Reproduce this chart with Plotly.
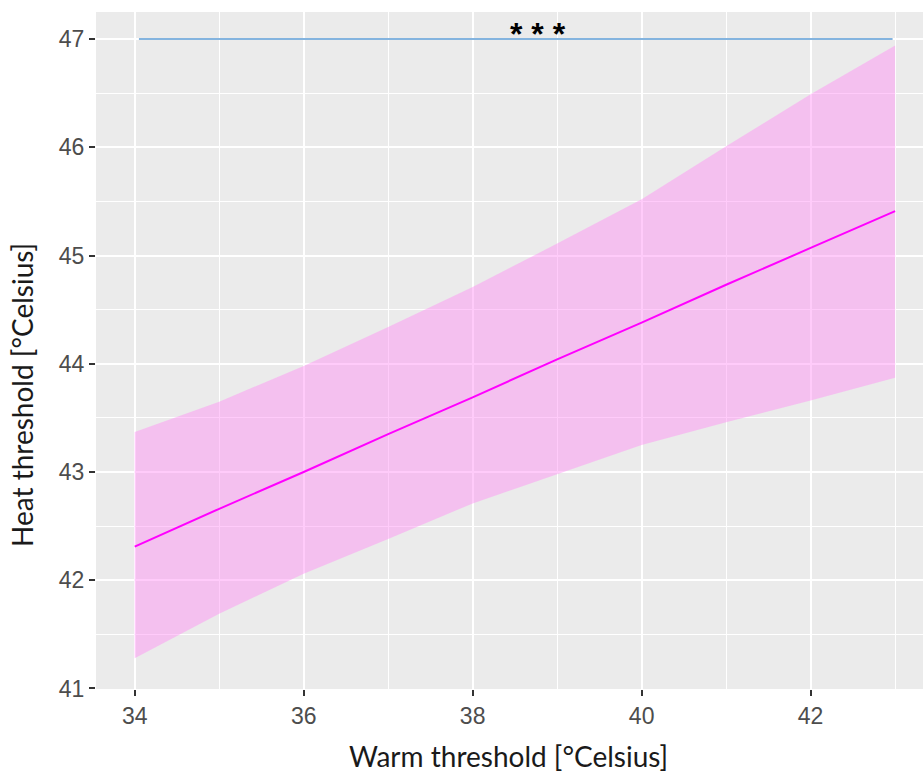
import plotly.graph_objects as go

# Data
warm = [34, 35, 36, 37, 38, 39, 40, 41, 42, 43]
heat_fit = [42.31, 42.66, 43.00, 43.35, 43.69, 44.04, 44.38, 44.73, 45.07, 45.41]
heat_upper = [43.37, 43.65, 43.98, 44.34, 44.71, 45.11, 45.52, 46.01, 46.49, 46.94]
heat_lower = [41.28, 41.69, 42.06, 42.38, 42.71, 42.98, 43.25, 43.46, 43.66, 43.87]

sig_x = [34.05, 42.97]
sig_y = [47, 47]
sig_label = "* * *"
sig_label_x = 38.77
sig_label_y = 47.05

x_ticks = [34, 36, 38, 40, 42]
y_ticks = [41, 42, 43, 44, 45, 46, 47]

fig = go.Figure()

fig.add_trace(go.Scatter(
    x=warm + warm[::-1],
    y=heat_upper + heat_lower[::-1],
    fill="toself",
    fillcolor="rgba(255,145,245,0.47)",
    line=dict(width=0),
    mode="lines",
    hoverinfo="skip",
    showlegend=False,
))
fig.add_trace(go.Scatter(
    x=warm, y=heat_fit, mode="lines",
    line=dict(color="#FF00FF", width=2),
    showlegend=False,
))
fig.add_trace(go.Scatter(
    x=sig_x, y=sig_y, mode="lines",
    line=dict(color="#5B9BD5", width=1.5),
    showlegend=False,
))

fig.add_annotation(
    x=sig_label_x, y=sig_label_y, xref="x", yref="y",
    text="<b>" + sig_label + "</b>", showarrow=False,
    font=dict(family="Liberation Sans", size=32, color="black"),
    xanchor="center", yanchor="middle",
)

title_font = dict(family="Lato", size=28, color="#1a1a1a")
fig.add_annotation(
    x=(508 - 96) / 827, y=(689 - 756) / 677, xref="paper", yref="paper",
    text="Warm threshold [°Celsius]", showarrow=False, font=title_font,
    xanchor="center", yanchor="middle",
)
fig.add_annotation(
    x=(22 - 96) / 827, y=(689 - 395) / 677, xref="paper", yref="paper",
    text="Heat threshold [°Celsius]", showarrow=False, font=title_font,
    textangle=-90, xanchor="center", yanchor="middle",
)

tick_font = dict(family="Liberation Sans", size=23, color="#4D4D4D")

fig.update_layout(
    width=923, height=772,
    margin=dict(l=96, r=0, t=12, b=83),
    paper_bgcolor="white",
    plot_bgcolor="#EBEBEB",
    showlegend=False,
    xaxis=dict(
        range=[33.542, 43.33],
        tickmode="array", tickvals=x_ticks, ticktext=[str(v) for v in x_ticks],
        ticks="outside", ticklen=6, tickwidth=1.5, tickcolor="#333333",
        tickfont=tick_font,
        showgrid=True, gridcolor="white", gridwidth=2,
        minor=dict(dtick=1, tick0=34, showgrid=True, gridcolor="white", gridwidth=1, ticks=""),
        zeroline=False, showline=False,
    ),
    yaxis=dict(
        range=[40.995, 47.25],
        tickmode="array", tickvals=y_ticks, ticktext=[str(v) for v in y_ticks],
        ticks="outside", ticklen=6, tickwidth=1.5, tickcolor="#333333",
        tickfont=tick_font,
        showgrid=True, gridcolor="white", gridwidth=2,
        minor=dict(dtick=0.5, tick0=41, showgrid=True, gridcolor="white", gridwidth=1, ticks=""),
        zeroline=False, showline=False,
    ),
)

fig.write_html("out.html")
